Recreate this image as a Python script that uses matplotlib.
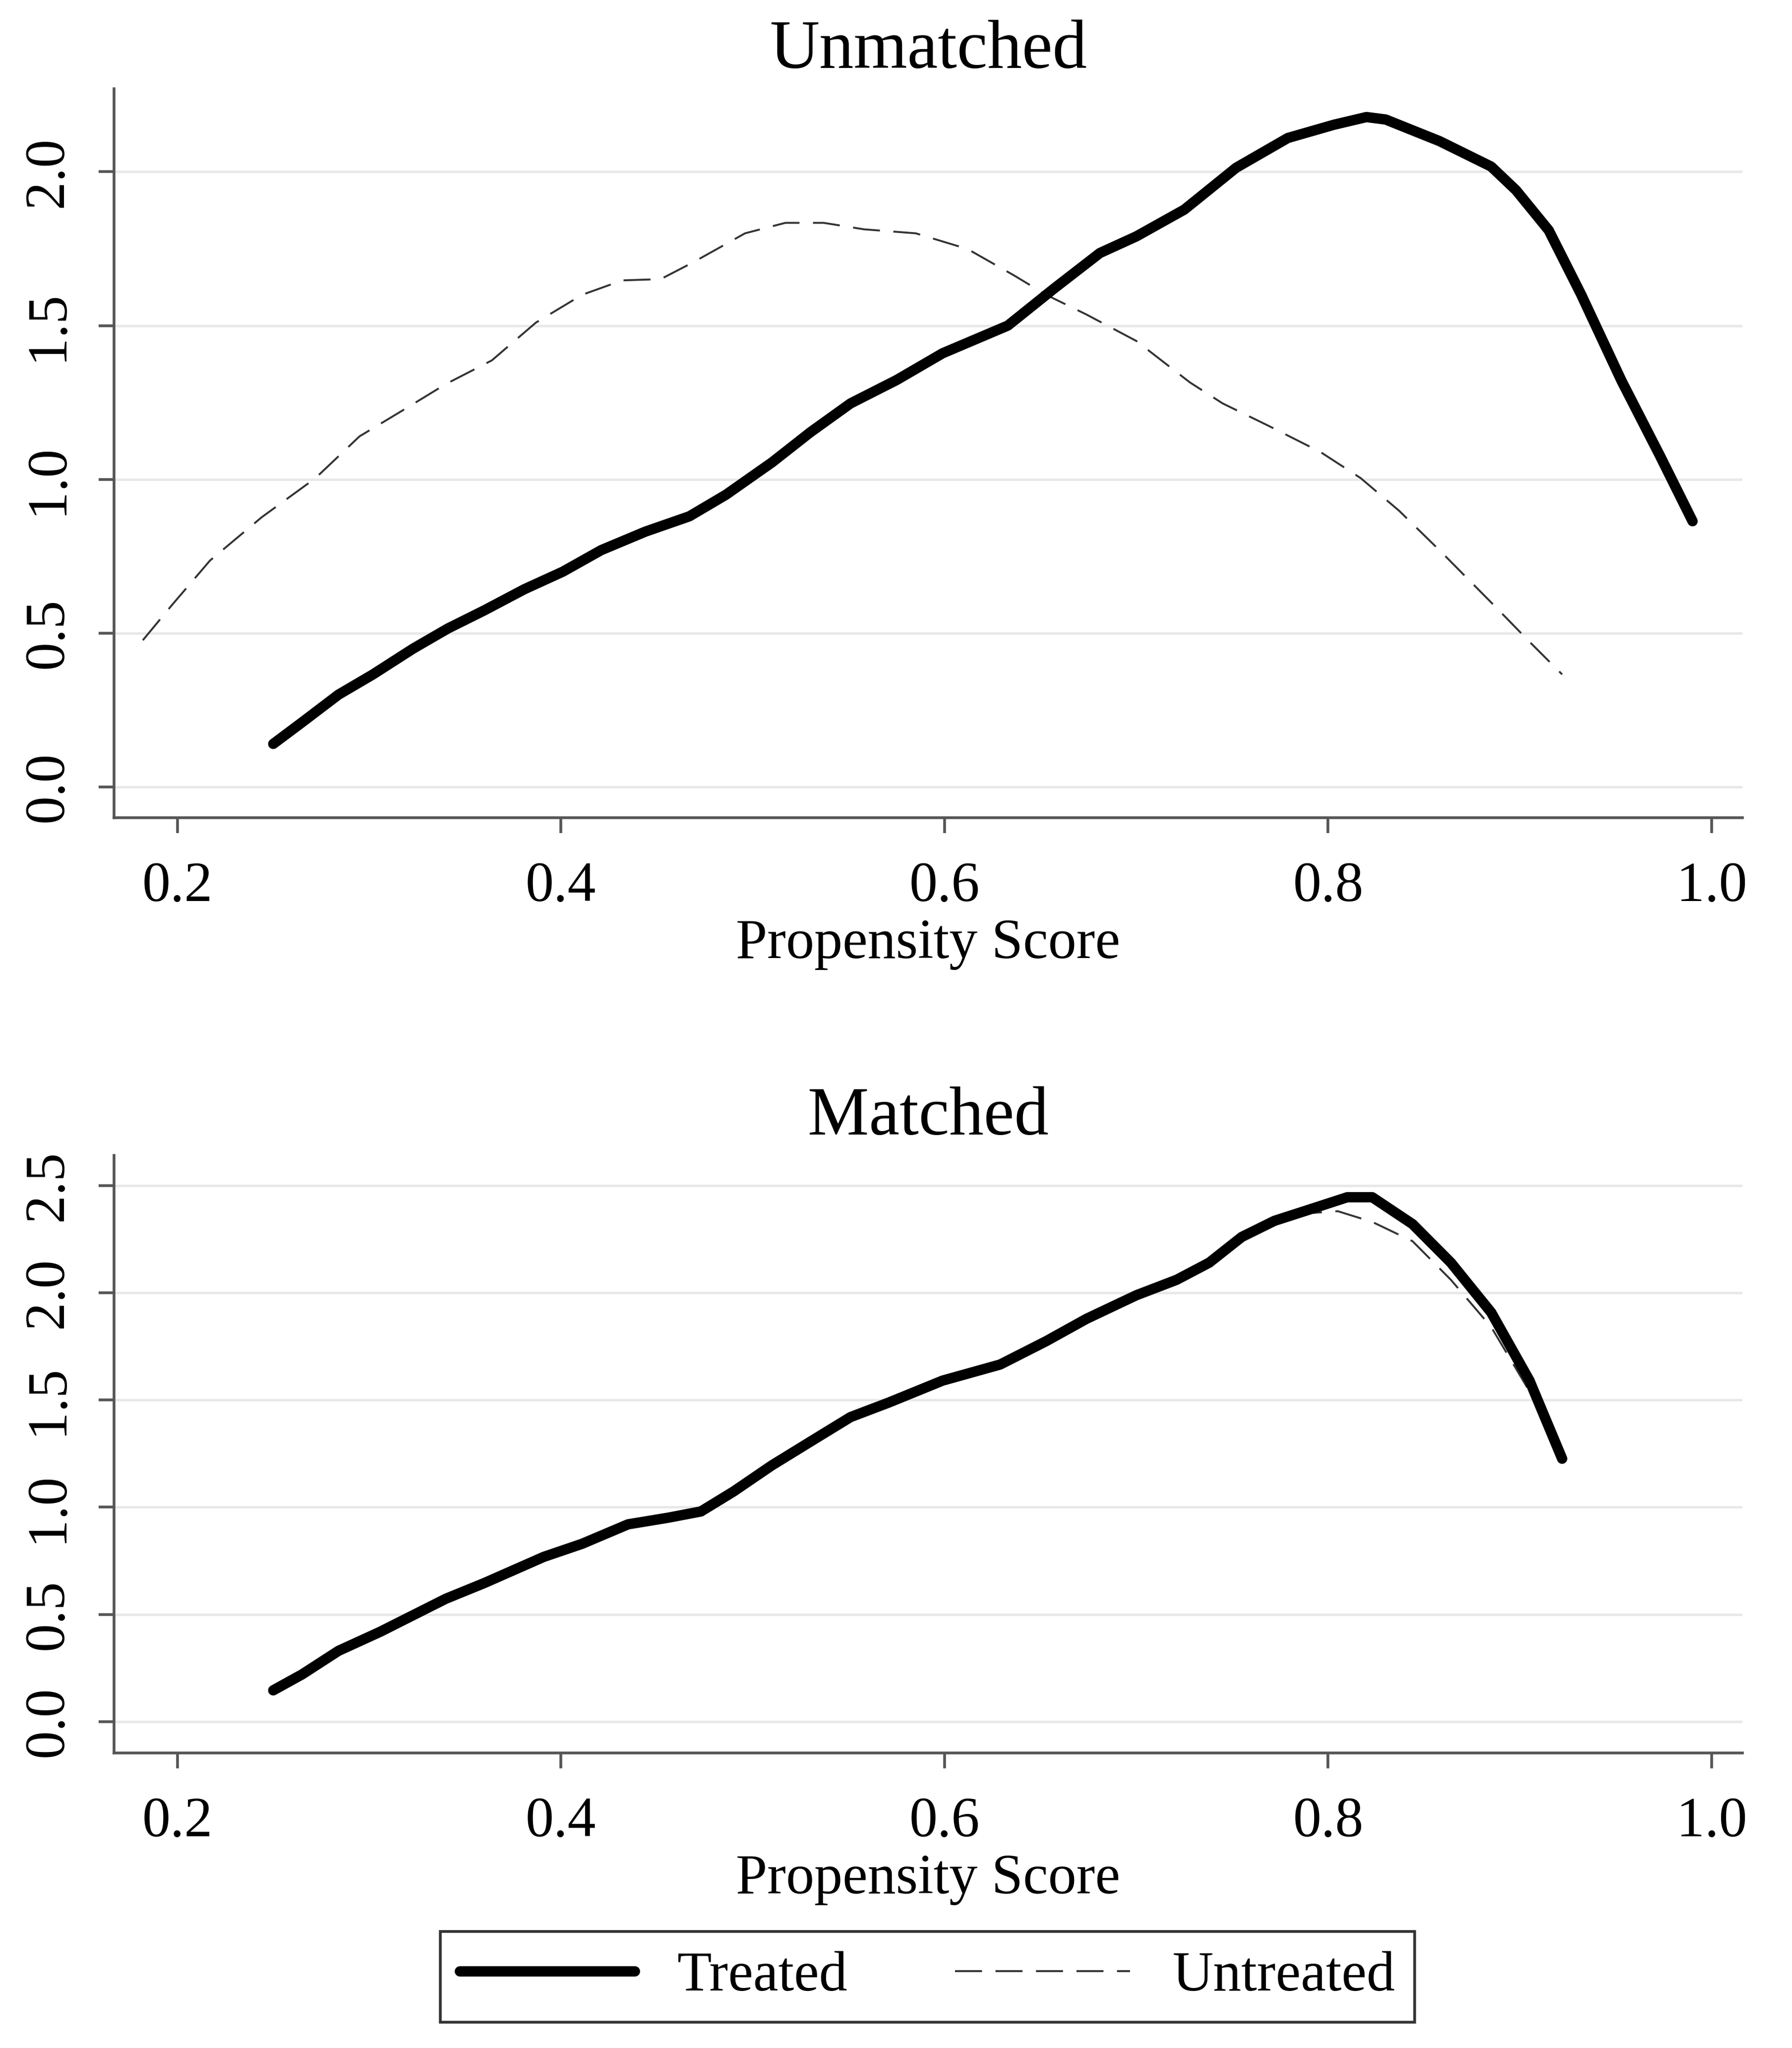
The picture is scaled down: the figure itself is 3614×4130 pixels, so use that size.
import numpy as np
import matplotlib
matplotlib.use('Agg')
import matplotlib.pyplot as plt

# Values
# Unmatched, treated
um_tr_x = [0.250, 0.265, 0.284, 0.302, 0.323, 0.341, 0.360, 0.381, 0.401, 0.421,
           0.444, 0.467, 0.486, 0.510, 0.530, 0.551, 0.575, 0.599, 0.633, 0.657,
           0.681, 0.700, 0.725, 0.752, 0.779, 0.803, 0.820, 0.830, 0.858, 0.885,
           0.898, 0.915, 0.932, 0.953, 0.973, 0.990]
um_tr_y = [0.14, 0.21, 0.30, 0.366, 0.45, 0.515, 0.574, 0.643, 0.70, 0.77,
           0.83, 0.88, 0.95, 1.055, 1.153, 1.247, 1.323, 1.41, 1.50, 1.62,
           1.736, 1.79, 1.877, 2.013, 2.11, 2.153, 2.178, 2.17, 2.10, 2.017,
           1.94, 1.81, 1.60, 1.32, 1.077, 0.864]

# Unmatched, untreated
um_un_x = [0.182, 0.197, 0.217, 0.244, 0.272, 0.295, 0.319, 0.340, 0.364, 0.387,
           0.411, 0.432, 0.452, 0.469, 0.496, 0.517, 0.537, 0.558, 0.585, 0.612,
           0.636, 0.653, 0.674, 0.700, 0.728, 0.745, 0.769, 0.796, 0.817, 0.837,
           0.858, 0.885, 0.905, 0.922]
um_un_y = [0.477, 0.59, 0.736, 0.877, 1.004, 1.14, 1.23, 1.31, 1.387, 1.51,
           1.60, 1.647, 1.651, 1.706, 1.80, 1.834, 1.834, 1.813, 1.80, 1.749,
           1.664, 1.60, 1.536, 1.45, 1.315, 1.247, 1.174, 1.089, 1.004, 0.898,
           0.77, 0.60, 0.472, 0.366]

# Matched, treated
m_tr_x = [0.250, 0.265, 0.284, 0.306, 0.340, 0.360, 0.391, 0.411, 0.435, 0.456,
          0.473, 0.490, 0.510, 0.530, 0.551, 0.571, 0.599, 0.629, 0.653, 0.674,
          0.700, 0.721, 0.738, 0.755, 0.772, 0.789, 0.810, 0.823, 0.844, 0.864,
          0.885, 0.905, 0.922]
m_tr_y = [0.146, 0.22, 0.33, 0.42, 0.573, 0.646, 0.768, 0.829, 0.92, 0.951,
          0.98, 1.073, 1.195, 1.305, 1.42, 1.488, 1.59, 1.665, 1.774, 1.878,
          1.988, 2.06, 2.14, 2.26, 2.335, 2.384, 2.445, 2.445, 2.32, 2.14,
          1.908, 1.59, 1.226]

# Matched, untreated
m_un_x = [0.250, 0.265, 0.284, 0.306, 0.340, 0.360, 0.391, 0.411, 0.435, 0.456,
          0.473, 0.490, 0.510, 0.530, 0.551, 0.571, 0.599, 0.629, 0.653, 0.674,
          0.700, 0.721, 0.738, 0.755, 0.772, 0.789, 0.805, 0.823, 0.844, 0.864,
          0.885, 0.905, 0.922]
m_un_y = [0.146, 0.22, 0.33, 0.42, 0.573, 0.646, 0.768, 0.829, 0.92, 0.951,
          0.98, 1.073, 1.195, 1.305, 1.42, 1.488, 1.59, 1.665, 1.774, 1.878,
          1.988, 2.06, 2.14, 2.25, 2.33, 2.37, 2.38, 2.33, 2.24, 2.06,
          1.84, 1.54, 1.23]

x_ticks = [0.2, 0.4, 0.6, 0.8, 1.0]
x_labels = ['0.2', '0.4', '0.6', '0.8', '1.0']
top_yticks = [0.0, 0.5, 1.0, 1.5, 2.0]
bot_yticks = [0.0, 0.5, 1.0, 1.5, 2.0, 2.5]

plt.rcParams['font.family'] = ['Liberation Serif', 'DejaVu Serif']

W, H = 3614, 4130
fig = plt.figure(figsize=(W / 100, H / 100), dpi=100)

def px_axes(l, t, r, b):
    return fig.add_axes([l / W, 1 - b / H, (r - l) / W, (b - t) / H])

def style(ax, title, yticks, ylim):
    ax.set_xlim(0.167, 1.016)
    ax.set_ylim(*ylim)
    ax.set_xticks(x_ticks)
    ax.set_xticklabels(x_labels)
    ax.set_yticks(yticks)
    ax.set_yticklabels(['%.1f' % v for v in yticks], rotation=90, va='center')
    for s in ['top', 'right']:
        ax.spines[s].set_visible(False)
    for s in ['left', 'bottom']:
        ax.spines[s].set_color('#555555')
        ax.spines[s].set_linewidth(4)
    ax.tick_params(axis='both', labelsize=82, length=22, width=4, color='#555555')
    ax.tick_params(axis='x', pad=42)
    ax.tick_params(axis='y', pad=36)
    ax.grid(axis='y', color='#e8e8e8', linewidth=3.5)
    ax.set_axisbelow(True)
    ax.set_title(title, fontsize=100, pad=30)
    ax.set_xlabel('Propensity Score', fontsize=82, labelpad=8)

# untreated drawn below the thick treated curve
tr_style = dict(color='black', lw=15, solid_capstyle='round',
                solid_joinstyle='round', zorder=3)
un_style = dict(color='#333333', lw=2.8, dashes=(14, 7), zorder=2)

ax1 = px_axes(230, 179, 3514, 1649)
l1, = ax1.plot(um_tr_x, um_tr_y, **tr_style)
l2, = ax1.plot(um_un_x, um_un_y, **un_style)
style(ax1, 'Unmatched', top_yticks, (-0.10, 2.27))

ax2 = px_axes(230, 2330, 3514, 3535)
ax2.plot(m_tr_x, m_tr_y, **tr_style)
ax2.plot(m_un_x, m_un_y, **un_style)
style(ax2, 'Matched', bot_yticks, (-0.146, 2.64))

leg = fig.legend([l1, l2], ['Treated', 'Untreated'], loc='center',
                 bbox_to_anchor=((889 + 2852) / 2 / W, 1 - (3889 + 4084) / 2 / H),
                 ncol=2, fontsize=82, frameon=True, fancybox=False,
                 handlelength=3.1, handletextpad=0.75, columnspacing=1.9,
                 borderpad=0.35)
leg.get_frame().set_edgecolor('black')
leg.get_frame().set_linewidth(4)

fig.savefig('out.png', dpi=100, facecolor='white')
